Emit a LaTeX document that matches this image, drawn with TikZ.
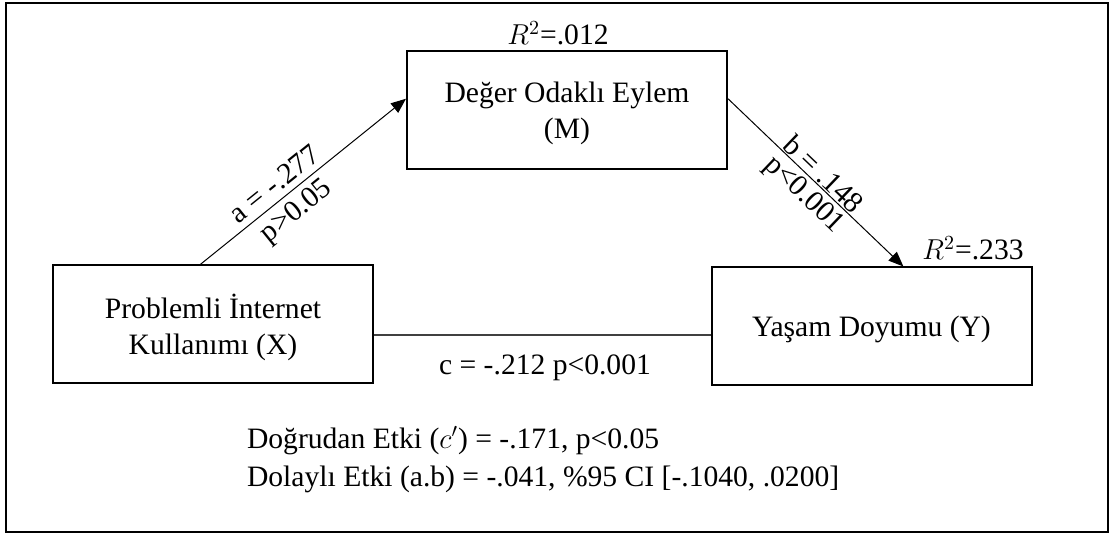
\documentclass[tikz,border=0pt]{standalone}
\usepackage{fontspec}
\setmainfont{Liberation Serif}
\usetikzlibrary{arrows.meta}
\begin{document}
\begin{tikzpicture}[x=0.5pt, y=-0.5pt,
		font=\fontsize{14.8}{17.8}\selectfont,
		box/.style={draw, line width=1pt, align=center, inner sep=0pt,
			text depth=0pt, minimum width=160pt, minimum height=59pt},
		arrowline/.style={line width=0.5pt, -{Triangle[length=7.5pt,width=6pt]}},
		coef/.style={sloped, inner sep=3pt},
	]
	\useasboundingbox (0,0) rectangle (1115,534);
	\draw[line width=1pt] (6,3) rectangle (1108,532);

	\node[box] (v0) at (213,324.5) {Problemli İnternet\\ Kullanımı (X)};
	\node[box] (v1) at (567,110) {Değer Odaklı Eylem\\ (M)};
	\node[box] (v2) at (871.5,326.5) {Yaşam Doyumu (Y)};

	\node (r1) at (558,33) {$R^2$=.012};
	\node (r2) at (973,248) {$R^2$=.233};

	\draw[arrowline] (v0.102) to
		node[coef, above, pos=0.41] {a = -.277}
		node[coef, below, pos=0.41] {p>0.05} (v1.176);
	\draw[arrowline] (v1.4.6) to
		node[coef, above, pos=0.5, inner sep=0.5pt] {b = .148}
		node[coef, below, pos=0.5, inner sep=2pt] {p<0.001} (v2.62.9);

	\coordinate (cy) at (0,335);
	\draw[line width=0.6pt, black!75] (v0.east |- cy) to (v2.west |- cy);
	\node (c0) at (545,368) {c = -.212 p<0.001};

	\node[align=left, anchor=west] (fx) at (240,460)
		{Doğrudan Etki ($c'$) = -.171, p<0.05\\[1.5pt] Dolaylı Etki (a.b) = -.041, \%95 CI [-.1040, .0200]};
\end{tikzpicture}
\end{document}
